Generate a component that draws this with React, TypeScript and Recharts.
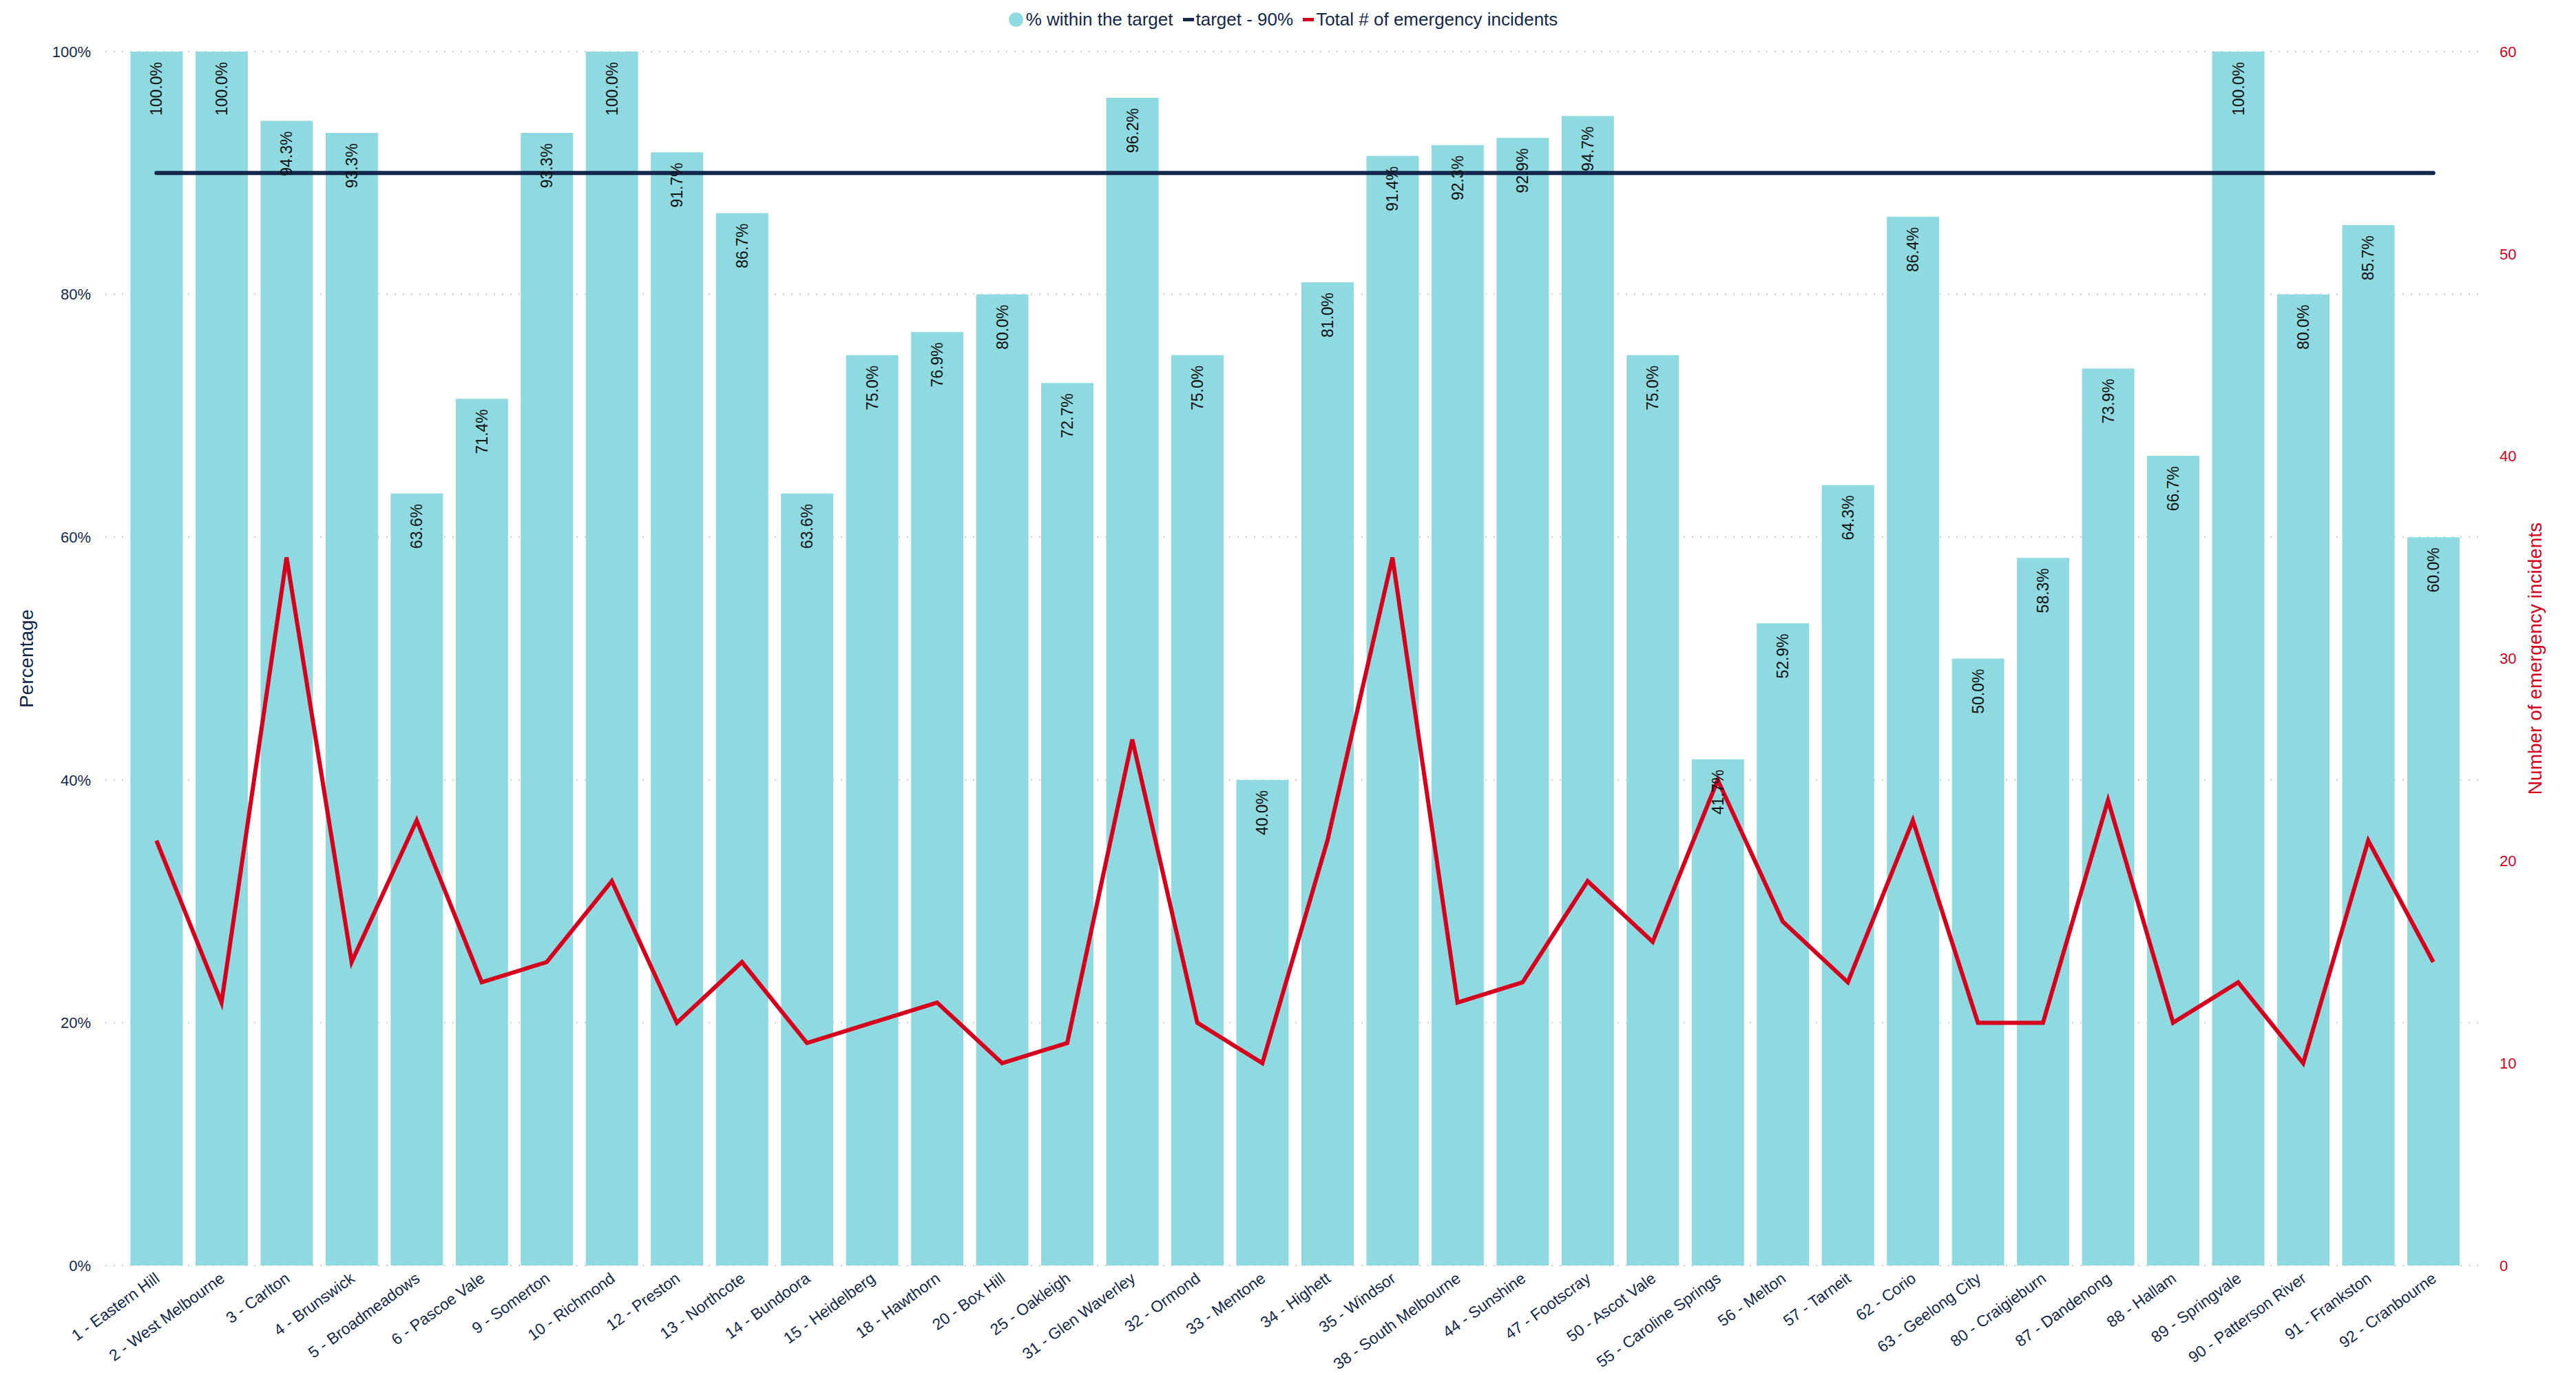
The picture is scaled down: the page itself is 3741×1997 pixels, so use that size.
import {
  Bar,
  CartesianGrid,
  ComposedChart,
  LabelList,
  Legend,
  Line,
  XAxis,
  YAxis,
} from "recharts";

const stations = [
  "1 - Eastern Hill", "2 - West Melbourne", "3 - Carlton", "4 - Brunswick", "5 - Broadmeadows",
  "6 - Pascoe Vale", "9 - Somerton", "10 - Richmond", "12 - Preston", "13 - Northcote",
  "14 - Bundoora", "15 - Heidelberg", "18 - Hawthorn", "20 - Box Hill", "25 - Oakleigh",
  "31 - Glen Waverley", "32 - Ormond", "33 - Mentone", "34 - Highett", "35 - Windsor",
  "38 - South Melbourne", "44 - Sunshine", "47 - Footscray", "50 - Ascot Vale", "55 - Caroline Springs",
  "56 - Melton", "57 - Tarneit", "62 - Corio", "63 - Geelong City", "80 - Craigieburn",
  "87 - Dandenong", "88 - Hallam", "89 - Springvale", "90 - Patterson River", "91 - Frankston",
  "92 - Cranbourne",
];

const pctWithinTarget = [
  100.0, 100.0, 94.3, 93.3, 63.6, 71.4, 93.3, 100.0, 91.7, 86.7,
  63.6, 75.0, 76.9, 80.0, 72.7, 96.2, 75.0, 40.0, 81.0, 91.4,
  92.3, 92.9, 94.7, 75.0, 41.7, 52.9, 64.3, 86.4, 50.0, 58.3,
  73.9, 66.7, 100.0, 80.0, 85.7, 60.0,
];

const totalIncidents = [
  21, 13, 35, 15, 22, 14, 15, 19, 12, 15,
  11, 12, 13, 10, 11, 26, 12, 10, 21, 35,
  13, 14, 19, 16, 24, 17, 14, 22, 12, 12,
  23, 12, 14, 10, 21, 15,
];

const TARGET = 90;
const pctTicks = [0, 20, 40, 60, 80, 100];
const countTicks = [0, 10, 20, 30, 40, 50, 60];

const data = stations.map((name, i) => ({
  name,
  pct: pctWithinTarget[i],
  target: TARGET,
  total: totalIncidents[i],
}));

const TEAL = "#8fdae0";
const NAVY = "#13284a";
const RED = "#d6001c";
const FONT = "'Liberation Sans', Arial, Helvetica, sans-serif";

function PctLabel(props: any) {
  const { x, y, width, value } = props;
  const cx = x + width / 2;
  const ty = y + 15;
  return (
    <text
      x={cx} y={ty} transform={`rotate(-90 ${cx} ${ty})`}
      textAnchor="end" dominantBaseline="central"
      fontSize={23} fill="#111" fontFamily={FONT}
    >
      {Number(value).toFixed(1)}%
    </text>
  );
}

function StationTick({ x, y, payload }: any) {
  return (
    <g transform={`translate(${x - 4},${y})`}>
      <text
        transform="rotate(-36)" textAnchor="end" dy="0.75em"
        fontSize={23} fill={NAVY} fontFamily={FONT}
      >
        {payload.value}
      </text>
    </g>
  );
}

function LegendRow() {
  const item = { display: "flex", alignItems: "center", marginRight: 14 } as const;
  return (
    <div style={{ height: 75, fontFamily: FONT, fontSize: 26, color: NAVY }}>
      <div style={{ height: 56, display: "flex", justifyContent: "center", alignItems: "center" }}>
        <div style={item}>
          <span style={{ width: 21, height: 21, borderRadius: 11, background: TEAL, marginRight: 4 }} />
          % within the target
        </div>
        <div style={item}>
          <span style={{ width: 16, height: 5, background: NAVY, marginRight: 3 }} />
          target - 90%
        </div>
        <div style={item}>
          <span style={{ width: 16, height: 5, background: RED, marginRight: 3 }} />
          Total # of emergency incidents
        </div>
      </div>
    </div>
  );
}

export default function App() {
  return (
    <div style={{ position: "absolute", left: 0, top: 0, width: 3741, height: 1997, background: "#fff" }}>
      <ComposedChart
        width={3741} height={1997} data={data}
        margin={{ top: 0, right: 0, bottom: 0, left: 0 }}
        barCategoryGap="10%"
      >
        <CartesianGrid vertical={false} yAxisId="pct" stroke="#cfcfcf" strokeWidth={2} strokeDasharray="2 10" />
        <XAxis
          dataKey="name" interval={0} height={159} padding={{ left: 27, right: 27 }}
          axisLine={false} tickLine={false} tick={<StationTick />}
        />
        <YAxis
          yAxisId="pct" domain={[0, 100]} ticks={pctTicks} width={153}
          tickFormatter={(v: number) => `${v}%`}
          axisLine={false} tickLine={false} tickSize={0} tickMargin={21}
          tick={{ fontSize: 22, fill: NAVY, fontFamily: FONT }}
          label={({ viewBox }: any) => (
            <text
              x={38} y={viewBox.y + viewBox.height / 2}
              transform={`rotate(-90 38 ${viewBox.y + viewBox.height / 2})`}
              textAnchor="middle" dominantBaseline="central"
              fontSize={28} fill={NAVY} fontFamily={FONT}
            >
              Percentage
            </text>
          )}
        />
        <YAxis
          yAxisId="cnt" orientation="right" domain={[0, 60]} ticks={countTicks} width={133}
          axisLine={false} tickLine={false} tickSize={0} tickMargin={22}
          tick={{ fontSize: 22, fill: RED, fontFamily: FONT }}
          label={({ viewBox }: any) => (
            <text
              x={3681} y={viewBox.y + viewBox.height / 2}
              transform={`rotate(-90 3681 ${viewBox.y + viewBox.height / 2})`}
              textAnchor="middle" dominantBaseline="central"
              fontSize={28} fill={RED} fontFamily={FONT}
            >
              Number of emergency incidents
            </text>
          )}
        />
        <Legend verticalAlign="top" align="center" content={<LegendRow />} />
        <Bar dataKey="pct" name="% within the target" yAxisId="pct" fill={TEAL} isAnimationActive={false}>
          <LabelList dataKey="pct" content={<PctLabel />} />
        </Bar>
        <Line
          dataKey="target" name="target - 90%" yAxisId="pct" type="linear"
          stroke={NAVY} strokeWidth={6} strokeLinecap="round" dot={false} activeDot={false}
          isAnimationActive={false}
        />
        <Line
          dataKey="total" name="Total # of emergency incidents" yAxisId="cnt" type="linear"
          stroke={RED} strokeWidth={6} dot={false} activeDot={false}
          isAnimationActive={false}
        />
      </ComposedChart>
    </div>
  );
}
